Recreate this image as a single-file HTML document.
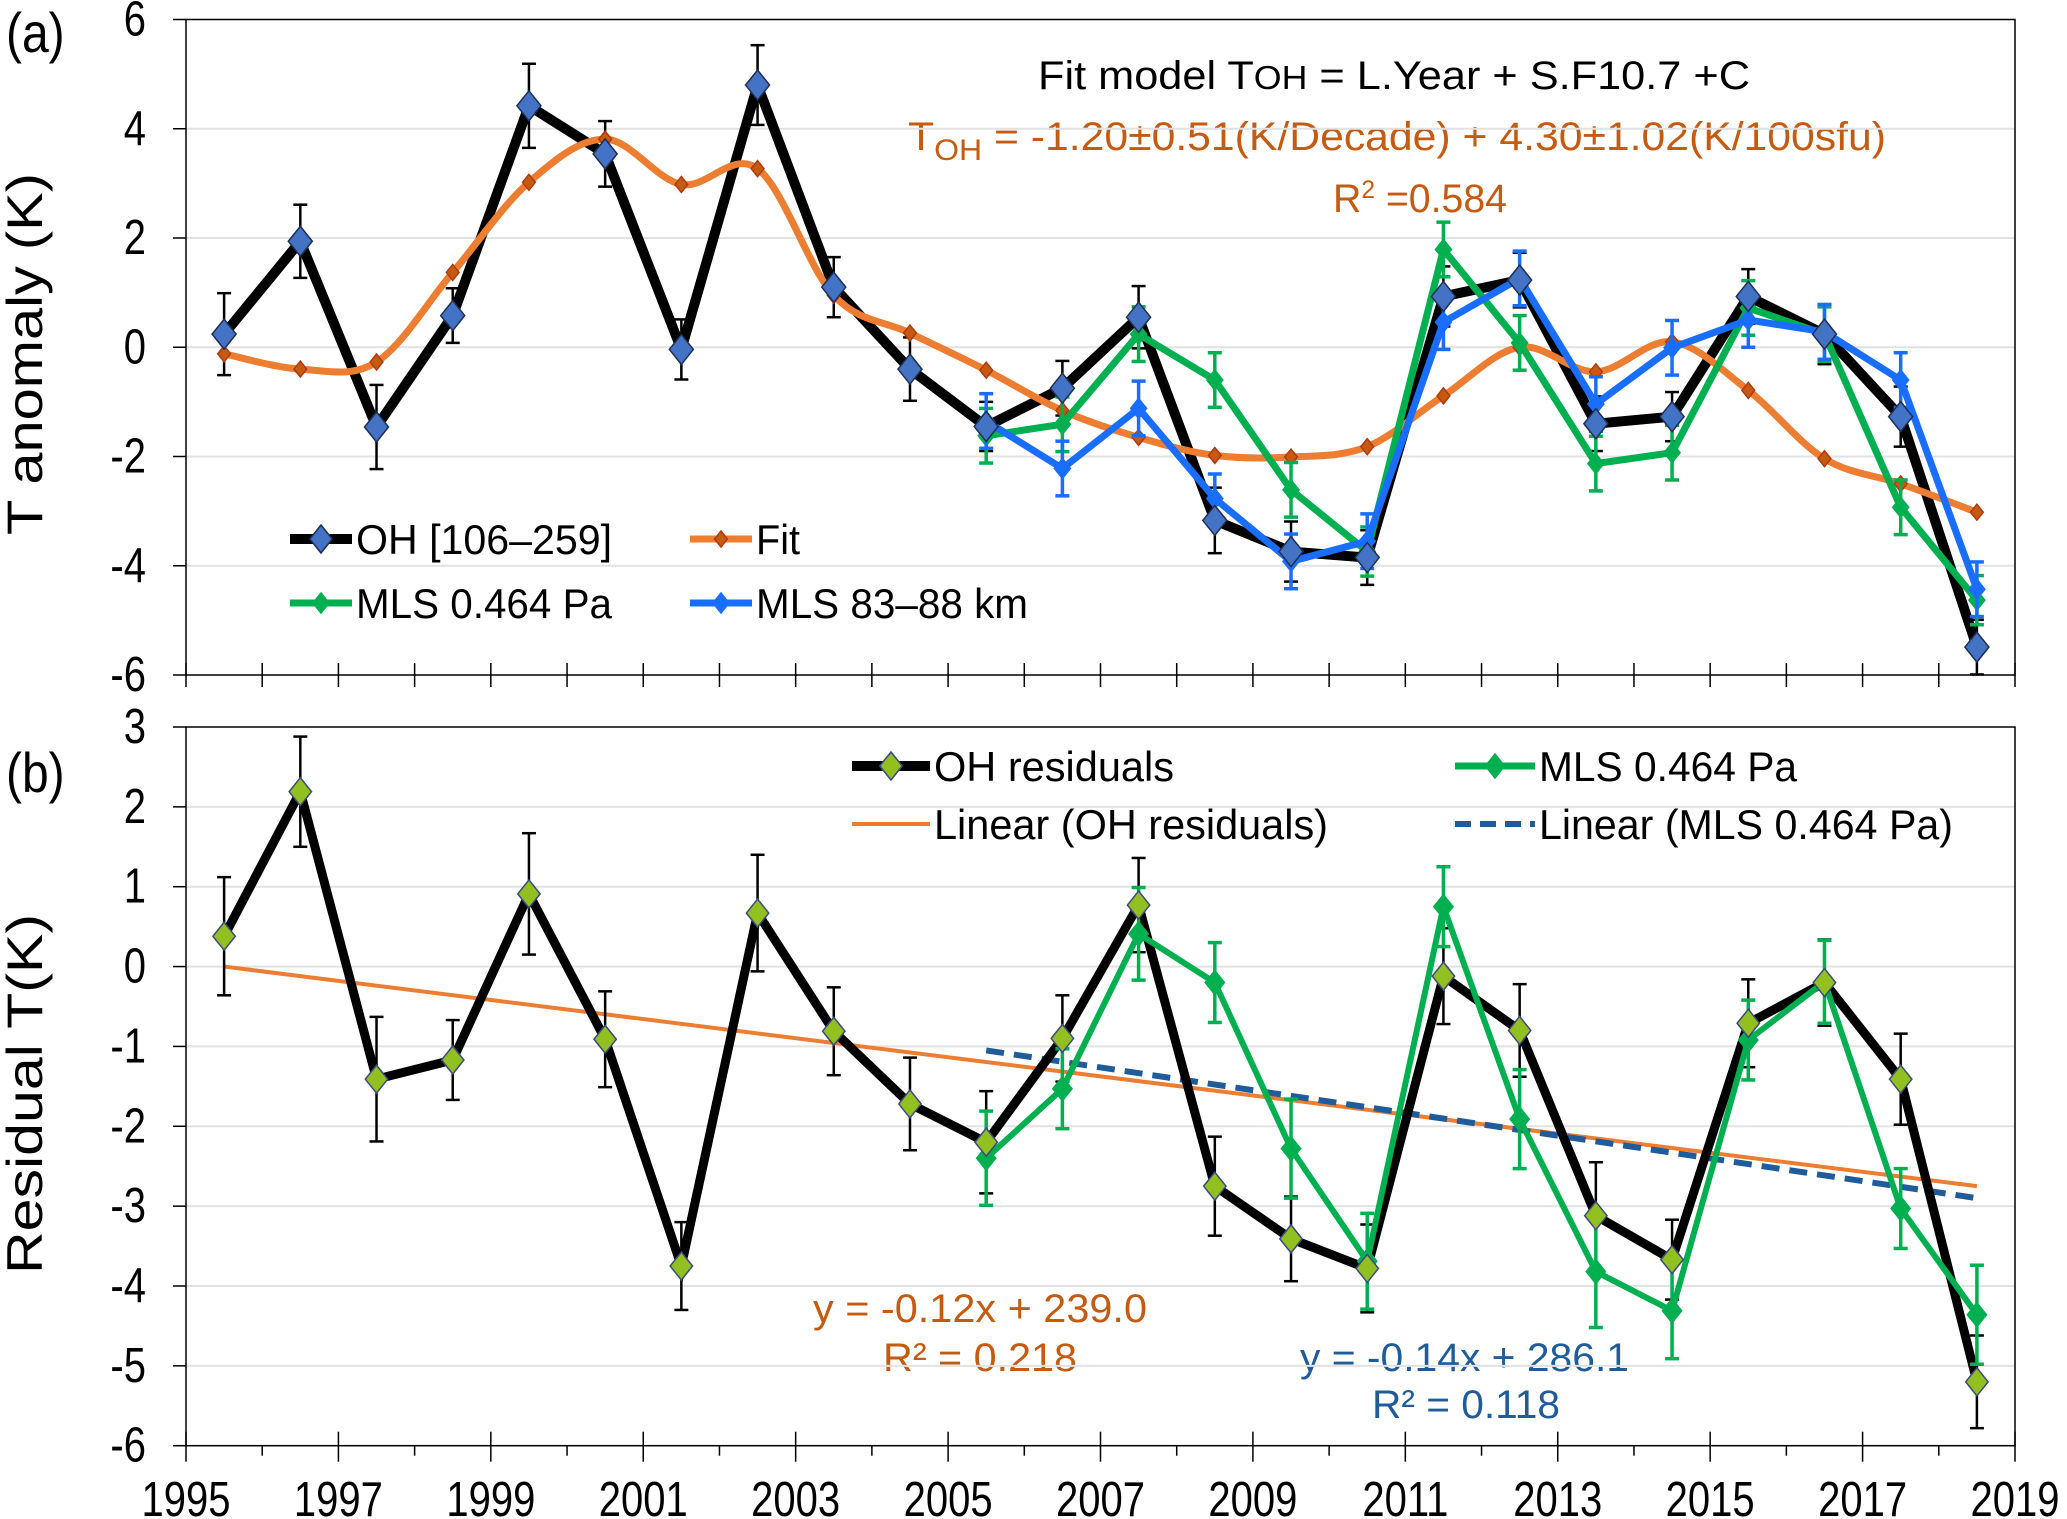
<!DOCTYPE html>
<html><head><meta charset="utf-8">
<style>
html,body{margin:0;padding:0;background:#fff;}
svg{display:block;font-family:"Liberation Sans",Arial,sans-serif;}
</style></head>
<body>
<svg id="chart" width="2067" height="1519" viewBox="0 0 2067 1519" xmlns="http://www.w3.org/2000/svg">
<g id="static">
<text transform="translate(6,52) scale(1,1.15)" font-size="48">(a)</text>
<text transform="translate(6,792) scale(1,1.15)" font-size="48">(b)</text>
<text transform="translate(42,354) rotate(-90)" text-anchor="middle" font-size="50" textLength="362" lengthAdjust="spacingAndGlyphs">T anomaly (K)</text>
<text transform="translate(42,1094) rotate(-90)" text-anchor="middle" font-size="50" textLength="360" lengthAdjust="spacingAndGlyphs">Residual T(K)</text>
<text x="1038" y="89" font-size="40" textLength="712" lengthAdjust="spacingAndGlyphs">Fit model   T<tspan font-size="33">OH</tspan> = L.Year + S.F10.7 +C</text>
<text x="908" y="150" font-size="40" fill="#C55A11" textLength="978" lengthAdjust="spacingAndGlyphs">T<tspan font-size="30" dy="10">OH</tspan><tspan dy="-10"> = -1.20±0.51(K/Decade) + 4.30±1.02(K/100sfu)</tspan></text>
<text x="1333" y="212" font-size="40" fill="#C55A11" textLength="174" lengthAdjust="spacingAndGlyphs">R<tspan font-size="25" dy="-14">2</tspan><tspan dy="14"> =0.584</tspan></text>
<text x="813" y="1322" font-size="40" fill="#C55A11" textLength="334" lengthAdjust="spacingAndGlyphs">y = -0.12x + 239.0</text>
<text x="883" y="1371" font-size="40" fill="#C55A11" textLength="194" lengthAdjust="spacingAndGlyphs">R² = 0.218</text>
<text x="1300" y="1371" font-size="40" fill="#1F5C99" textLength="329" lengthAdjust="spacingAndGlyphs">y = -0.14x + 286.1</text>
<text x="1372" y="1418" font-size="40" fill="#1F5C99" textLength="188" lengthAdjust="spacingAndGlyphs">R² = 0.118</text>
</g>
</svg>
<script>
// ---- data ----
const years = [1995.5,1996.5,1997.5,1998.5,1999.5,2000.5,2001.5,2002.5,2003.5,2004.5,2005.5,2006.5,2007.5,2008.5,2009.5,2010.5,2011.5,2012.5,2013.5,2014.5,2015.5,2016.5,2017.5,2018.5];
const mlsYears = [2005.5,2006.5,2007.5,2008.5,2009.5,2010.5,2011.5,2012.5,2013.5,2014.5,2015.5,2016.5,2017.5,2018.5];
const ohAnom = [0.24,1.94,-1.46,0.58,4.42,3.54,-0.04,4.8,1.1,-0.4,-1.45,-0.75,0.55,-3.17,-3.74,-3.85,0.93,1.23,-1.4,-1.27,0.93,0.24,-1.27,-5.49];
const ohAnomErr = [0.75,0.67,0.77,0.5,0.77,0.6,0.55,0.73,0.55,0.58,0.45,0.5,0.57,0.6,0.55,0.5,0.55,0.5,0.5,0.45,0.5,0.55,0.55,0.5];
const fitVals = [-0.12,-0.4,-0.27,1.37,3.02,3.81,2.98,3.27,0.95,0.26,-0.42,-1.16,-1.65,-1.98,-2.01,-1.82,-0.89,0.0,-0.45,0.1,-0.79,-2.04,-2.5,-3.02];
const mlsAnom = [-1.62,-1.41,0.24,-0.6,-2.61,-3.74,1.79,0.08,-2.13,-1.93,0.72,0.24,-2.93,-4.63];
const mlsAnomErr = [0.5,0.5,0.5,0.5,0.5,0.45,0.5,0.5,0.5,0.5,0.5,0.5,0.5,0.45];
const bluAnom = [-1.35,-2.22,-1.12,-2.77,-3.92,-3.55,0.46,1.26,-1.04,-0.01,0.5,0.28,-0.6,-4.43];
const bluAnomErr = [0.5,0.5,0.5,0.45,0.5,0.5,0.5,0.5,0.5,0.5,0.5,0.5,0.5,0.5];
const ohRes = [0.38,2.19,-1.41,-1.17,0.91,-0.91,-3.75,0.67,-0.81,-1.72,-2.2,-0.9,0.77,-2.75,-3.41,-3.78,-0.12,-0.8,-3.12,-3.67,-0.71,-0.2,-1.41,-5.2];
const ohResErr = [0.74,0.69,0.78,0.5,0.76,0.6,0.55,0.73,0.55,0.58,0.64,0.54,0.59,0.62,0.53,0.55,0.6,0.58,0.67,0.5,0.55,0.54,0.57,0.58];
const mlsRes = [-2.4,-1.53,0.41,-0.2,-2.28,-3.69,0.75,-1.91,-3.82,-4.31,-0.92,-0.19,-3.03,-4.36];
const mlsResErr = [0.59,0.5,0.58,0.5,0.62,0.6,0.5,0.62,0.7,0.6,0.5,0.52,0.5,0.62];
const ohTrendX = [1995.5,2018.5];
const ohTrendY = [0.0,-2.75];
const mlsTrendX = [2005.5,2018.5];
const mlsTrendY = [-1.05,-2.9];
const topTicks = [6,4,2,0,-2,-4,-6];
const botTicks = [3,2,1,0,-1,-2,-3,-4,-5,-6];
const yearLabels = [1995,1997,1999,2001,2003,2005,2007,2009,2011,2013,2015,2017,2019];

// ---- axes ----
const X0=186, X1=2015;
const xS = v => X0 + (v-1995)*(X1-X0)/24;
const yTop = v => 19.5 + (6-v)*(675-19.5)/12;
const yBot = v => 727 + (3-v)*(1445.7-727)/9;

const svg=document.getElementById('chart');
const NS='http://www.w3.org/2000/svg';
function mk(tag,attrs,parent){const e=document.createElementNS(NS,tag);for(const k in attrs)e.setAttribute(k,attrs[k]);(parent||svg).appendChild(e);return e;}

function frame(yf,ticks,top,bottom,name,minor){
  const g=mk('g',{});
  
  
  ticks.forEach(t=>{
    if(t!==ticks[ticks.length-1]&&t!==ticks[0]) mk('line',{x1:X0,x2:X1,y1:yf(t),y2:yf(t),stroke:'#e2e2e2','stroke-width':2},g);
    mk('line',{x1:X0-13,x2:X0,y1:yf(t),y2:yf(t),stroke:'#000','stroke-width':1.5},g);
    const tx=mk('text',{transform:`translate(${X0-40},${yf(t)+16}) scale(1,1.22)`,'text-anchor':'end','font-size':40},g);
    
    
    tx.textContent=t;
  });
  mk('rect',{x:X0,y:top,width:X1-X0,height:bottom-top,fill:'none',stroke:'#000','stroke-width':1.5},g);
  for(let yr=1995;yr<=2019;yr++){
    const major=(yr%2===1);
    let y1,y2;
    if(minor){y1=major?bottom-14:bottom;y2=major?bottom+16:bottom+10;}
    else{y1=bottom-12;y2=bottom+12;}
    mk('line',{x1:xS(yr),x2:xS(yr),y1:y1,y2:y2,stroke:'#000','stroke-width':1.5},g);
  }
  return g;
}
frame(yTop,topTicks,19.5,675,'top',false);
frame(yBot,botTicks,727,1445.7,'bottom',true);
yearLabels.forEach(yr=>{
  const t=mk('text',{transform:`translate(${xS(yr)},1516) scale(1,1.22)`,'text-anchor':'middle','font-size':40});
  
  
  t.textContent=yr;
});

function errbars(xs,vs,es,yf,color,w,name){
  const g=mk('g',{});
  
  
  xs.forEach((x,i)=>{
    const px=xS(x),a=yf(vs[i]+es[i]),b=yf(vs[i]-es[i]);
    mk('line',{x1:px,x2:px,y1:a,y2:b,stroke:color,'stroke-width':w},g);
    mk('line',{x1:px-7,x2:px+7,y1:a,y2:a,stroke:color,'stroke-width':w},g);
    mk('line',{x1:px-7,x2:px+7,y1:b,y2:b,stroke:color,'stroke-width':w},g);
  });
}
function line(xs,vs,yf,color,w,name,dash){
  const p=mk('polyline',{points:xs.map((x,i)=>xS(x)+','+yf(vs[i])).join(' '),fill:'none',stroke:color,'stroke-width':w,'stroke-linejoin':'miter','stroke-dasharray':dash||'none'});
  
  
}
function smooth(xs,vs,yf,color,w,name){
  const P=xs.map((x,i)=>[xS(x),yf(vs[i])]);
  let d='M'+P[0][0]+','+P[0][1];
  for(let i=0;i<P.length-1;i++){
    const p0=P[Math.max(0,i-1)],p1=P[i],p2=P[i+1],p3=P[Math.min(P.length-1,i+2)];
    const t=1/6;
    d+=' C'+(p1[0]+(p2[0]-p0[0])*t)+','+(p1[1]+(p2[1]-p0[1])*t)+' '+(p2[0]-(p3[0]-p1[0])*t)+','+(p2[1]-(p3[1]-p1[1])*t)+' '+p2[0]+','+p2[1];
  }
  const p=mk('path',{d:d,fill:'none',stroke:color,'stroke-width':w});
  
  
}
function diamonds(xs,vs,yf,fill,stroke,r,name){
  const g=mk('g',{});
  
  
  xs.forEach((x,i)=>{
    const px=xS(x),py=yf(vs[i]);
    const d=mk('polygon',{points:`${px},${py-r} ${px+r*0.8},${py} ${px},${py+r} ${px-r*0.8},${py}`,fill:fill,stroke:stroke,'stroke-width':1.5},g);
    
    
  });
}

// ---- top panel ----
errbars(years,ohAnom,ohAnomErr,yTop,'#000',2.5,'oh-error-bars');
line(years,ohAnom,yTop,'#000',10,'oh-line');
smooth(years,fitVals,yTop,'#ED7D31',7,'fit-curve');
diamonds(years,fitVals,yTop,'#C55A11','#B03A10',8,'fit-points');
errbars(mlsYears,mlsAnom,mlsAnomErr,yTop,'#00B050',3.5,'mls-error-bars');
line(mlsYears,mlsAnom,yTop,'#00B050',7,'mls-line');
diamonds(mlsYears,mlsAnom,yTop,'#00B050','#00B050',10,'mls-points');
errbars(mlsYears,bluAnom,bluAnomErr,yTop,'#1A6EFF',3.5,'mls-km-error-bars');
line(mlsYears,bluAnom,yTop,'#1A6EFF',7,'mls-km-line');
diamonds(mlsYears,bluAnom,yTop,'#1A6EFF','#1A6EFF',10,'mls-km-points');
diamonds(years,ohAnom,yTop,'#4472C4','#1F2F50',15,'oh-points');

// ---- bottom panel ----
line(ohTrendX,ohTrendY,yBot,'#ED7D31',4,'oh-trendline');
line(mlsTrendX,mlsTrendY,yBot,'#1F5C99',6,'mls-trendline','18,10');
errbars(years,ohRes,ohResErr,yBot,'#000',2.5,'oh-res-error-bars');
line(years,ohRes,yBot,'#000',9,'oh-res-line');
errbars(mlsYears,mlsRes,mlsResErr,yBot,'#00B050',3.5,'mls-res-error-bars');
line(mlsYears,mlsRes,yBot,'#00B050',6,'mls-res-line');
diamonds(mlsYears,mlsRes,yBot,'#00B050','#00B050',12,'mls-res-points');
diamonds(years,ohRes,yBot,'#92C020','#3A4A80',14,'oh-res-points');

// ---- legends ----
function legend(x,y,color,w,marker,mfill,mstroke,mr,label,name,dash,len,tl){
  const g=mk('g',{});
  
  
  len=len||62;
  mk('line',{x1:x,x2:x+len,y1:y,y2:y,stroke:color,'stroke-width':w,'stroke-dasharray':dash||'none'},g);
  if(marker){const c=x+len/2;mk('polygon',{points:`${c},${y-mr} ${c+mr*0.8},${y} ${c},${y+mr} ${c-mr*0.8},${y}`,fill:mfill,stroke:mstroke,'stroke-width':1.5},g);}
  const t=mk('text',{x:x+len+4,y:y+15,'font-size':42,textLength:tl,lengthAdjust:'spacingAndGlyphs'},g);
  t.textContent=label;
}
legend(290,539,'#000',10,true,'#4472C4','#1F2F50',14,'OH [106–259]','legend-oh',null,62,256);
legend(690,539,'#ED7D31',7,true,'#C55A11','#B03A10',8,'Fit','legend-fit',null,62,44);
legend(290,603,'#00B050',7,true,'#00B050','#00B050',10,'MLS 0.464 Pa','legend-mls',null,62,256);
legend(690,603,'#1A6EFF',7,true,'#1A6EFF','#1A6EFF',10,'MLS 83–88 km','legend-mls-km',null,62,272);
legend(852,766,'#000',10,true,'#92C020','#3A4A80',14,'OH residuals','legend-oh-res',null,78,240);
legend(1455,766,'#00B050',7,true,'#00B050','#00B050',12,'MLS 0.464 Pa','legend-mls-res',null,80,258);
legend(852,824,'#ED7D31',4,false,'','',0,'Linear (OH residuals)','legend-oh-trend',null,78,394);
legend(1455,824,'#1F5C99',6,false,'','',0,'Linear (MLS 0.464 Pa)','legend-mls-trend','16,9',80,414);
</script>
</body></html>
